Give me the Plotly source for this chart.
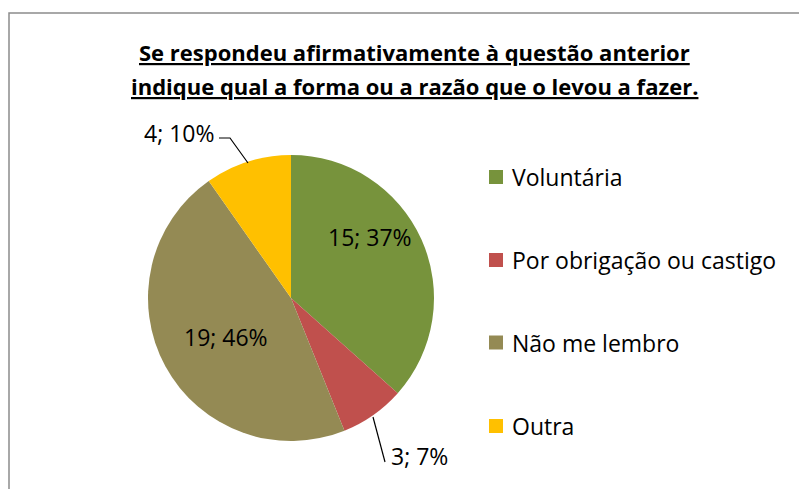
import plotly.graph_objects as go

W, H = 807, 489
OFF = 8  # page body margin in the browser

labels = ["Voluntária", "Por obrigação ou castigo", "Não me lembro", "Outra"]
values = [15, 3, 19, 4]
colors = ["#77933C", "#C0504D", "#948A54", "#FFC000"]
title_lines = ["Se respondeu afirmativamente à questão anterior",
               "indique qual a forma ou a razão que o levou a fazer."]

total = sum(values)
texts = [f"{v}; {round(100 * v / total)}%" for v in values]


def px(x):
    return (x - OFF) / W


def py(y):
    return 1 - (y - OFF) / H


FONT = "Open Sans"
FS = 23

fig = go.Figure()
fig.add_trace(go.Pie(
    labels=labels,
    values=values,
    text=texts,
    textinfo="none",
    sort=False,
    direction="clockwise",
    rotation=0,
    marker=dict(colors=colors, line=dict(width=0)),
    domain=dict(x=[px(148), px(434)], y=[py(441), py(155)]),
    showlegend=False,
    hoverinfo="label+value+percent",
))

annotations = []
# title (two lines)
for t, yy in zip(title_lines, [52, 86]):
    annotations.append(dict(
        x=px(414), y=py(yy), xref="paper", yref="paper", xanchor="center", yanchor="middle",
        text=f"<b><u>{t}</u></b>", showarrow=False,
        font=dict(family=FONT, size=22, color="black"),
    ))

# data labels: (x, y, xanchor) for each slice
label_pos = [(370, 237, "center"), (389, 456, "left"), (226, 337, "center"), (216, 133, "right")]
for txt, (lx, ly, anc) in zip(texts, label_pos):
    annotations.append(dict(x=px(lx), y=py(ly), xref="paper", yref="paper", xanchor=anc,
                            yanchor="middle", text=txt, showarrow=False,
                            font=dict(family=FONT, size=FS, color="black")))

shapes = []
# chart frame
shapes.append(dict(type="rect", xref="paper", yref="paper",
                   x0=px(9), x1=px(W + 20), y0=py(H + 20), y1=py(13),
                   line=dict(color="#8c8c8c", width=1.5), fillcolor="rgba(0,0,0,0)"))
# leader lines
shapes.append(dict(type="path", xref="paper", yref="paper",
                   path=f"M {px(219)} {py(138)} L {px(230)} {py(138)} L {px(248)} {py(163)}",
                   line=dict(color="black", width=1.2)))
shapes.append(dict(type="path", xref="paper", yref="paper",
                   path=f"M {px(373)} {py(417)} L {px(385)} {py(462)}",
                   line=dict(color="black", width=1.2)))

# manual legend
leg_y = [177, 260, 342.5, 426]
for lab, col, yy in zip(labels, colors, leg_y):
    shapes.append(dict(type="rect", xref="paper", yref="paper",
                       x0=px(489), x1=px(503), y0=py(yy + 7), y1=py(yy - 7),
                       line=dict(width=0), fillcolor=col))
    annotations.append(dict(x=px(510), y=py(yy), xref="paper", yref="paper",
                            xanchor="left", yanchor="middle", text=lab, showarrow=False,
                            font=dict(family=FONT, size=FS, color="black")))

fig.update_layout(
    width=W, height=H,
    margin=dict(l=0, r=0, t=0, b=0),
    paper_bgcolor="white", plot_bgcolor="white",
    annotations=annotations, shapes=shapes,
)

fig.write_html("out.html")
